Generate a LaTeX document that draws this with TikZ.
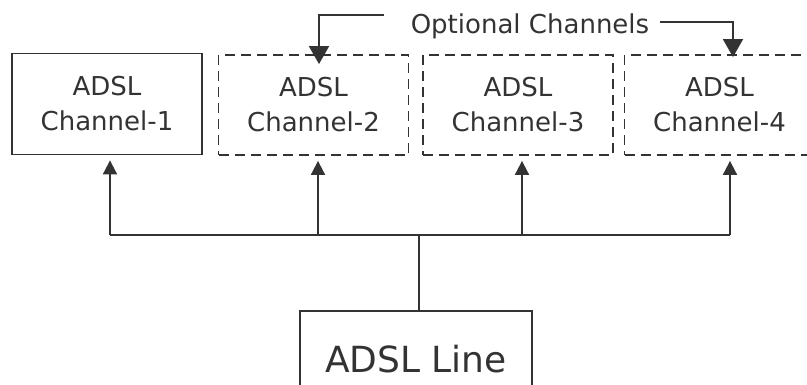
\documentclass[tikz,border=0pt]{standalone}
\usepackage{fontspec}
\setmainfont{DejaVu Sans}
\usetikzlibrary{arrows.meta}
\begin{document}
\begin{tikzpicture}[x=1pt, y=-1pt, line width=1.8pt, color=black!80,
    chan/.style={draw, minimum width=190pt, minimum height=100pt, align=center, font=\fontsize{26}{35}\selectfont},
    optchan/.style={chan, dash pattern=on 10pt off 6pt},
    uparrow/.style={-{Triangle[width=14pt,length=14pt]}, shorten >=5pt},
    downarrow/.style={-{Triangle[width=20pt,length=18pt]}}]
    \useasboundingbox (0,0) rectangle (807,385);
    \node[chan, minimum height=101pt] (c1) at (107,104) {ADSL\\Channel-1};
    \node[optchan] (c2) at (313.5,105) {ADSL\\Channel-2};
    \node[optchan] (c3) at (518,105) {ADSL\\Channel-3};
    \node[optchan] (c4) at (719.5,105) {ADSL\\Channel-4};
    \node[draw, minimum width=232pt, minimum height=96pt, font=\fontsize{36}{40}\selectfont] (line) at (416,359) {ADSL Line};
    \node[anchor=base, font=\fontsize{26}{30}\selectfont] (opt) at (530,34) {Optional Channels};
    \coordinate (b1) at (110,235);
    \coordinate (b2) at (318,235);
    \coordinate (b3) at (522,235);
    \coordinate (b4) at (730,235);
    \coordinate (bus) at (419,235);
    \coordinate (la) at (384,15);
    \coordinate (ra) at (660,22);
    \draw (b1) -- (b4);
    \draw (bus) -- (bus |- line.north);
    \foreach \i in {1,...,4}
        \draw[uparrow] (b\i) -- (b\i |- c\i.south);
    \draw[downarrow] (la) -| ([xshift=5.5pt,yshift=-10pt]c2.north);
    \draw[downarrow] (ra) -| ([xshift=13.5pt,yshift=-3pt]c4.north);
\end{tikzpicture}
\end{document}
